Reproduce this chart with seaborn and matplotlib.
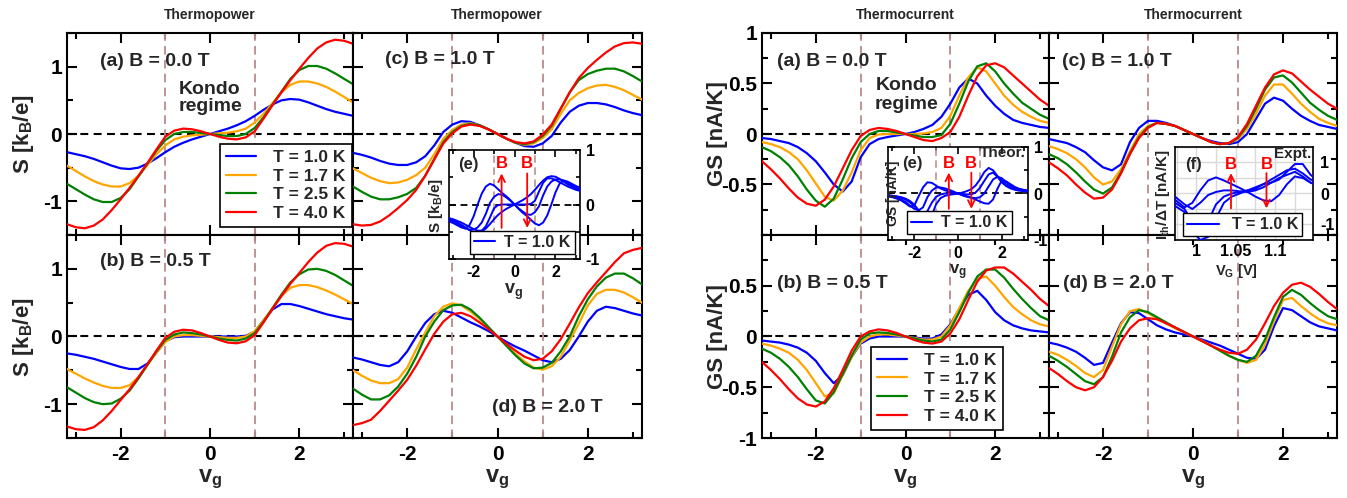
import numpy as np
import pandas as pd
import matplotlib
matplotlib.use("Agg")
import matplotlib.pyplot as plt
import seaborn as sns
from matplotlib.lines import Line2D
from matplotlib.ticker import MultipleLocator, FixedLocator

# ---------------- data ----------------
VG = [-3.2, -3.0, -2.8, -2.6, -2.4, -2.2, -2.0, -1.8, -1.6, -1.4, -1.2, -1.0, -0.8, -0.6, -0.4, -0.2,
      0.0, 0.2, 0.4, 0.6, 0.8, 1.0, 1.2, 1.4, 1.6, 1.8, 2.0, 2.2, 2.4, 2.6, 2.8, 3.0, 3.2]
TEMPS = ["T = 1.0 K", "T = 1.7 K", "T = 2.5 K", "T = 4.0 K"]
COLORS = ["#0000ff", "#ffa500", "#008000", "#ff0000"]
B_LABELS = ["B = 0.0 T", "B = 0.5 T", "B = 1.0 T", "B = 2.0 T"]

# Thermopower S [kB/e]
TP_A_T10 = [-0.27,-0.30,-0.33,-0.37,-0.42,-0.47,-0.51,-0.52,-0.50,-0.44,-0.36,-0.27,-0.19,-0.13,-0.08,-0.04,0.0,0.04,0.08,0.13,0.19,0.27,0.36,0.44,0.50,0.52,0.51,0.47,0.42,0.37,0.33,0.30,0.27]
TP_A_T17 = [-0.47,-0.55,-0.63,-0.70,-0.75,-0.78,-0.78,-0.73,-0.62,-0.46,-0.30,-0.17,-0.08,-0.04,-0.02,-0.01,0.0,0.01,0.02,0.04,0.08,0.17,0.30,0.46,0.62,0.73,0.78,0.78,0.75,0.70,0.63,0.55,0.47]
TP_A_T25 = [-0.74,-0.82,-0.90,-0.97,-1.01,-1.01,-0.95,-0.82,-0.63,-0.44,-0.25,-0.09,0.0,0.03,0.03,0.015,0.0,-0.015,-0.03,-0.03,0.0,0.09,0.25,0.44,0.63,0.82,0.95,1.01,1.01,0.97,0.90,0.82,0.74]
TP_A_T40 = [-1.34,-1.385,-1.40,-1.36,-1.27,-1.13,-0.97,-0.80,-0.62,-0.43,-0.23,-0.04,0.05,0.08,0.07,0.04,0.0,-0.04,-0.07,-0.08,-0.05,0.04,0.23,0.43,0.62,0.80,0.97,1.13,1.27,1.36,1.40,1.385,1.34]

TP_B_T10 = [-0.25,-0.27,-0.30,-0.33,-0.37,-0.41,-0.45,-0.48,-0.48,-0.40,-0.24,-0.07,-0.01,0.0,0.0,0.0,0.0,0.0,0.0,0.0,0.01,0.07,0.24,0.40,0.48,0.48,0.45,0.41,0.37,0.33,0.30,0.27,0.25]
TP_B_T17 = [-0.48,-0.55,-0.62,-0.68,-0.73,-0.76,-0.76,-0.72,-0.60,-0.42,-0.24,-0.08,0.0,0.02,0.02,0.01,0.0,-0.01,-0.02,-0.02,0.0,0.08,0.24,0.42,0.60,0.72,0.76,0.76,0.73,0.68,0.62,0.55,0.48]
TP_B_T25 = [-0.75,-0.83,-0.91,-0.97,-1.0,-0.99,-0.92,-0.80,-0.62,-0.42,-0.22,-0.05,0.03,0.06,0.05,0.03,0.0,-0.03,-0.05,-0.06,-0.03,0.05,0.22,0.42,0.62,0.80,0.92,0.99,1.0,0.97,0.91,0.83,0.75]
TP_B_T40 = [-1.33,-1.37,-1.38,-1.34,-1.24,-1.10,-0.94,-0.78,-0.60,-0.41,-0.21,-0.02,0.07,0.10,0.09,0.05,0.0,-0.05,-0.09,-0.10,-0.07,0.02,0.21,0.41,0.60,0.78,0.94,1.10,1.24,1.34,1.38,1.37,1.33]

TP_C_T10 = [-0.28,-0.31,-0.35,-0.40,-0.44,-0.46,-0.46,-0.42,-0.33,-0.17,0.03,0.14,0.19,0.18,0.13,0.07,0.0,-0.07,-0.13,-0.18,-0.19,-0.14,-0.03,0.17,0.33,0.42,0.46,0.46,0.44,0.40,0.35,0.31,0.28]
TP_C_T17 = [-0.51,-0.58,-0.65,-0.70,-0.73,-0.72,-0.68,-0.61,-0.50,-0.30,-0.07,0.06,0.14,0.16,0.13,0.07,0.0,-0.07,-0.13,-0.16,-0.14,-0.06,0.07,0.30,0.50,0.61,0.68,0.72,0.73,0.70,0.65,0.58,0.51]
TP_C_T25 = [-0.78,-0.86,-0.93,-0.97,-0.97,-0.94,-0.89,-0.80,-0.62,-0.37,-0.12,0.03,0.12,0.15,0.13,0.07,0.0,-0.07,-0.13,-0.15,-0.12,-0.03,0.12,0.37,0.62,0.80,0.89,0.94,0.97,0.97,0.93,0.86,0.78]
TP_C_T40 = [-1.34,-1.36,-1.35,-1.30,-1.21,-1.10,-0.98,-0.83,-0.62,-0.38,-0.14,0.01,0.11,0.14,0.12,0.07,0.0,-0.07,-0.12,-0.14,-0.11,-0.01,0.14,0.38,0.62,0.83,0.98,1.10,1.21,1.30,1.35,1.36,1.34]

TP_D_T10 = [-0.31,-0.34,-0.38,-0.42,-0.44,-0.38,-0.22,0.0,0.20,0.33,0.38,0.35,0.28,0.21,0.15,0.08,0.0,-0.08,-0.15,-0.21,-0.28,-0.35,-0.38,-0.33,-0.20,0.0,0.22,0.38,0.44,0.42,0.38,0.34,0.31]
TP_D_T17 = [-0.50,-0.58,-0.65,-0.69,-0.69,-0.63,-0.46,-0.19,0.06,0.30,0.44,0.49,0.46,0.37,0.26,0.13,0.0,-0.13,-0.26,-0.37,-0.46,-0.49,-0.44,-0.30,-0.06,0.19,0.46,0.63,0.69,0.69,0.65,0.58,0.50]
TP_D_T25 = [-0.77,-0.86,-0.93,-0.93,-0.87,-0.74,-0.55,-0.30,0.0,0.22,0.39,0.46,0.47,0.40,0.28,0.14,0.0,-0.14,-0.28,-0.40,-0.47,-0.46,-0.39,-0.22,0.0,0.30,0.55,0.74,0.87,0.93,0.93,0.86,0.77]
TP_D_T40 = [-1.31,-1.28,-1.23,-1.10,-0.95,-0.80,-0.64,-0.43,-0.19,0.04,0.22,0.33,0.35,0.30,0.21,0.11,0.0,-0.11,-0.21,-0.30,-0.35,-0.33,-0.22,-0.04,0.19,0.43,0.64,0.80,0.95,1.10,1.23,1.28,1.31]

# Thermocurrent GS [nA/K]
GS_A_T10 = [-0.04,-0.05,-0.07,-0.09,-0.13,-0.19,-0.27,-0.38,-0.50,-0.57,-0.47,-0.23,-0.10,-0.05,-0.03,-0.015,0.0,0.02,0.05,0.09,0.17,0.30,0.46,0.55,0.50,0.38,0.28,0.20,0.14,0.11,0.09,0.07,0.06]
GS_A_T17 = [-0.08,-0.10,-0.13,-0.18,-0.25,-0.36,-0.49,-0.62,-0.66,-0.56,-0.38,-0.16,-0.04,-0.005,0.0,0.0,0.0,0.0,0.005,0.02,0.06,0.18,0.38,0.56,0.66,0.62,0.50,0.38,0.29,0.22,0.17,0.13,0.11]
GS_A_T25 = [-0.13,-0.17,-0.23,-0.31,-0.42,-0.55,-0.66,-0.72,-0.64,-0.45,-0.24,-0.08,0.0,0.03,0.03,0.015,0.0,-0.015,-0.03,-0.03,-0.01,0.10,0.30,0.52,0.67,0.70,0.62,0.50,0.40,0.31,0.25,0.19,0.15]
GS_A_T40 = [-0.27,-0.35,-0.44,-0.54,-0.63,-0.69,-0.71,-0.65,-0.52,-0.34,-0.16,-0.02,0.04,0.06,0.05,0.03,0.0,-0.03,-0.06,-0.07,-0.04,0.02,0.17,0.38,0.57,0.68,0.70,0.66,0.58,0.50,0.42,0.34,0.28]

GS_B_T10 = [-0.04,-0.05,-0.06,-0.08,-0.11,-0.16,-0.24,-0.36,-0.46,-0.38,-0.20,-0.07,-0.02,0.0,0.0,0.0,0.0,-0.01,-0.02,-0.02,0.02,0.12,0.27,0.41,0.45,0.36,0.24,0.16,0.11,0.08,0.06,0.05,0.04]
GS_B_T17 = [-0.07,-0.09,-0.12,-0.16,-0.23,-0.33,-0.46,-0.59,-0.56,-0.38,-0.20,-0.06,0.0,0.02,0.02,0.01,0.0,-0.015,-0.03,-0.03,0.0,0.11,0.28,0.45,0.57,0.59,0.50,0.39,0.29,0.22,0.16,0.12,0.10]
GS_B_T25 = [-0.12,-0.16,-0.22,-0.30,-0.40,-0.52,-0.63,-0.66,-0.55,-0.37,-0.19,-0.03,0.03,0.04,0.035,0.02,0.0,-0.02,-0.04,-0.05,-0.03,0.07,0.24,0.43,0.59,0.66,0.66,0.58,0.47,0.37,0.28,0.20,0.16]
GS_B_T40 = [-0.25,-0.33,-0.42,-0.52,-0.61,-0.67,-0.69,-0.64,-0.51,-0.33,-0.14,0.0,0.05,0.07,0.06,0.035,0.0,-0.035,-0.06,-0.07,-0.05,0.03,0.17,0.36,0.54,0.65,0.68,0.68,0.62,0.54,0.46,0.37,0.30]

GS_C_T10 = [-0.05,-0.07,-0.09,-0.13,-0.18,-0.26,-0.33,-0.36,-0.30,-0.08,0.06,0.13,0.13,0.11,0.08,0.04,0.0,-0.04,-0.07,-0.09,-0.10,-0.08,0.0,0.15,0.30,0.36,0.33,0.25,0.18,0.13,0.09,0.07,0.05]
GS_C_T17 = [-0.12,-0.15,-0.19,-0.25,-0.33,-0.43,-0.50,-0.47,-0.35,-0.17,0.0,0.08,0.11,0.10,0.08,0.04,0.0,-0.04,-0.08,-0.10,-0.09,-0.05,0.05,0.20,0.38,0.49,0.49,0.40,0.30,0.22,0.15,0.11,0.08]
GS_C_T25 = [-0.20,-0.24,-0.30,-0.38,-0.47,-0.55,-0.59,-0.53,-0.38,-0.19,-0.03,0.07,0.11,0.10,0.08,0.04,0.0,-0.04,-0.08,-0.10,-0.09,-0.04,0.08,0.25,0.44,0.56,0.58,0.51,0.41,0.31,0.24,0.18,0.14]
GS_C_T40 = [-0.28,-0.34,-0.41,-0.50,-0.58,-0.64,-0.63,-0.55,-0.39,-0.20,-0.04,0.06,0.11,0.10,0.08,0.04,0.0,-0.04,-0.08,-0.10,-0.09,-0.03,0.10,0.28,0.46,0.59,0.63,0.60,0.52,0.44,0.37,0.30,0.25]

GS_D_T10 = [-0.06,-0.08,-0.11,-0.15,-0.21,-0.28,-0.26,-0.06,0.13,0.24,0.23,0.17,0.11,0.07,0.04,0.02,0.0,-0.03,-0.06,-0.09,-0.13,-0.17,-0.21,-0.22,-0.13,0.10,0.28,0.26,0.20,0.14,0.10,0.08,0.06]
GS_D_T17 = [-0.15,-0.18,-0.23,-0.29,-0.36,-0.40,-0.33,-0.10,0.12,0.25,0.27,0.23,0.18,0.13,0.08,0.04,0.0,-0.04,-0.09,-0.14,-0.19,-0.23,-0.26,-0.23,-0.08,0.15,0.36,0.38,0.30,0.23,0.17,0.13,0.11]
GS_D_T25 = [-0.19,-0.24,-0.30,-0.37,-0.44,-0.47,-0.40,-0.20,0.04,0.19,0.26,0.24,0.19,0.14,0.09,0.045,0.0,-0.045,-0.09,-0.14,-0.19,-0.23,-0.25,-0.19,-0.03,0.19,0.39,0.46,0.41,0.33,0.26,0.20,0.17]
GS_D_T40 = [-0.31,-0.37,-0.44,-0.50,-0.53,-0.50,-0.40,-0.24,-0.05,0.08,0.16,0.18,0.17,0.13,0.09,0.045,0.0,-0.045,-0.09,-0.13,-0.16,-0.17,-0.13,-0.03,0.13,0.30,0.43,0.51,0.53,0.49,0.42,0.34,0.27]

# Experimental inset (f): I_th/dT [nA/K] vs V_G [V]
VG_EXP = [0.973, 0.985, 0.995, 1.005, 1.015, 1.025, 1.035, 1.045, 1.055, 1.065, 1.075,
          1.085, 1.095, 1.105, 1.115, 1.125, 1.135, 1.145, 1.150]
EXP_1 = [-0.2, -0.45, -0.3, 0.1, 0.42, 0.52, 0.42, 0.3, 0.18, 0.05, -0.1, -0.22, -0.25, -0.05, 0.3, 0.55, 0.5, 0.35, 0.3]
EXP_2 = [-0.1, -0.35, -0.5, -0.3, -0.05, 0.05, 0.1, 0.1, 0.07, 0.05, 0.1, 0.2, 0.35, 0.5, 0.6, 0.7, 0.55, 0.35, 0.3]
EXP_3 = [-0.3, -0.5, -0.9, -1.3, -0.9, -0.35, -0.1, 0.0, 0.05, 0.1, 0.15, 0.3, 0.45, 0.6, 0.75, 0.8, 0.65, 0.45, 0.4]
EXP_4 = [-0.4, -0.6, -1.2, -1.5, -1.4, -0.8, -0.3, -0.1, 0.0, 0.1, 0.2, 0.3, 0.35, 0.45, 0.7, 0.95, 0.95, 0.6, 0.5]

# ---------------- style ----------------
sns.set_theme(style="ticks")
plt.rcParams.update({
    "font.weight": "bold",
    "axes.labelweight": "bold",
    "mathtext.fontset": "custom",
    "mathtext.rm": "Liberation Sans:bold",
    "mathtext.it": "Liberation Sans:bold",
    "mathtext.bf": "Liberation Sans:bold",
    "mathtext.default": "bf",
    "axes.edgecolor": "black",
    "xtick.color": "black",
    "ytick.color": "black",
})
plt.rcParams["font.family"] = ["Liberation Sans", "DejaVu Sans"]

W, H = 1347, 498
fig = plt.figure(figsize=(W / 100, H / 100), dpi=100)
fig.patch.set_facecolor("white")


def add_ax(x0, y0, x1, y1):
    return fig.add_axes([x0 / W, 1 - y1 / H, (x1 - x0) / W, (y1 - y0) / H])


def ftext(x, y, s, **kw):
    kw.setdefault("fontweight", "bold")
    return fig.text(x / W, 1 - y / H, s, **kw)


def guides(ax, lw=1.5):
    ax.axhline(0, color="black", lw=lw, ls=(0, (3.8, 2.6)), zorder=1)
    for v in (-1, 1):
        ax.axvline(v, color="#bc8f8f", lw=lw * 0.9, ls=(0, (4.6, 2.8)), zorder=1)


def style_axes(ax, lw, size, major_len, minor_len):
    for sp in ax.spines.values():
        sp.set_visible(True)
        sp.set_linewidth(lw)
        sp.set_color("black")
    ax.tick_params(which="both", direction="in", top=True, right=True,
                   width=lw, labelsize=size, colors="black")
    ax.tick_params(which="major", length=major_len)
    ax.tick_params(which="minor", length=minor_len)
    ax.set_xlabel("")
    ax.set_ylabel("")


def main_panel(box, series, ylim, yticks, yminor, xlabels, ylabels):
    ax = add_ax(*box)
    guides(ax)
    df = pd.DataFrame({
        "vg": VG * len(series),
        "val": sum(series, []),
        "T": [t for t in TEMPS for _ in VG],
    })
    sns.lineplot(data=df, x="vg", y="val", hue="T", hue_order=TEMPS,
                 palette=COLORS, ax=ax, legend=False, linewidth=1.6,
                 sort=False, zorder=3)
    ax.set_xlim(-3.2, 3.2)
    ax.set_ylim(*ylim)
    ax.xaxis.set_major_locator(FixedLocator([-2, 0, 2]))
    ax.xaxis.set_minor_locator(MultipleLocator(1))
    ax.yaxis.set_major_locator(FixedLocator(yticks))
    ax.yaxis.set_minor_locator(MultipleLocator(yminor))
    style_axes(ax, 1.5, 15, 7, 4)
    ax.set_yticklabels([("%g" % t) for t in yticks] if ylabels else [])
    ax.set_xticklabels(["-2", "0", "2"] if xlabels else [])
    ax.tick_params(axis="x", pad=5)
    return ax


def temp_legend(ax, anchor):
    handles = [Line2D([], [], color=c, lw=1.6) for c in COLORS]
    leg = ax.legend(handles, TEMPS, loc="lower right", bbox_to_anchor=anchor,
                    prop={"weight": "bold", "size": 12.5}, frameon=True,
                    fancybox=False, framealpha=1, edgecolor="black",
                    handlelength=1.7, handletextpad=1.0, labelspacing=0.2,
                    borderpad=0.35, borderaxespad=0)
    leg.get_frame().set_linewidth(1.2)
    leg.set_zorder(10)
    return leg


TP_lim = (-1.5, 1.5)
GS_lim = (-1.0, 1.0)

tpa = main_panel((67, 33, 353, 235), [TP_A_T10, TP_A_T17, TP_A_T25, TP_A_T40], TP_lim, [-1, 0, 1], 0.5, False, True)
tpb = main_panel((67, 235, 353, 438), [TP_B_T10, TP_B_T17, TP_B_T25, TP_B_T40], TP_lim, [-1, 0, 1], 0.5, True, True)
tpc = main_panel((353, 33, 642, 235), [TP_C_T10, TP_C_T17, TP_C_T25, TP_C_T40], TP_lim, [-1, 0, 1], 0.5, False, False)
tpd = main_panel((353, 235, 642, 438), [TP_D_T10, TP_D_T17, TP_D_T25, TP_D_T40], TP_lim, [-1, 0, 1], 0.5, True, False)

gsa = main_panel((762, 33, 1049, 235), [GS_A_T10, GS_A_T17, GS_A_T25, GS_A_T40], GS_lim, [-0.5, 0, 0.5, 1], 0.25, False, True)
gsb = main_panel((762, 235, 1049, 438), [GS_B_T10, GS_B_T17, GS_B_T25, GS_B_T40], GS_lim, [-1, -0.5, 0, 0.5], 0.25, True, True)
gsc = main_panel((1049, 33, 1337, 235), [GS_C_T10, GS_C_T17, GS_C_T25, GS_C_T40], GS_lim, [-0.5, 0, 0.5, 1], 0.25, False, False)
gsd = main_panel((1049, 235, 1337, 438), [GS_D_T10, GS_D_T17, GS_D_T25, GS_D_T40], GS_lim, [-1, -0.5, 0, 0.5], 0.25, True, False)

temp_legend(tpa, (0.995, 0.04))
temp_legend(gsb, (0.838, 0.04))


# ---------------- insets ----------------
def inset_theory(box, series, anchor):
    ax = add_ax(*box)
    ax.set_facecolor("white")
    ax.set_zorder(5)
    guides(ax, lw=1.3)
    df = pd.DataFrame({
        "vg": VG * len(series),
        "val": sum(series, []),
        "B": [b for b in B_LABELS for _ in VG],
    })
    sns.lineplot(data=df, x="vg", y="val", hue="B", hue_order=B_LABELS,
                 palette=["#0000ff"] * 4, ax=ax, legend=False, linewidth=1.4,
                 sort=False, zorder=3)
    ax.set_xlim(-3.2, 3.2)
    ax.set_ylim(-1, 1)
    ax.xaxis.set_major_locator(FixedLocator([-2, 0, 2]))
    ax.xaxis.set_minor_locator(MultipleLocator(1))
    ax.yaxis.set_major_locator(FixedLocator([-1, 0, 1]))
    ax.yaxis.set_minor_locator(MultipleLocator(0.5))
    style_axes(ax, 1.2, 11.5, 5, 3)
    ax.tick_params(labelleft=False, labelright=True, pad=4)
    ax.set_xticklabels(["-2", "0", "2"])
    ax.set_yticklabels(["-1", "0", "1"])
    leg = ax.legend([Line2D([], [], color="#0000ff", lw=1.5)], ["T = 1.0 K"],
                    loc="lower center", bbox_to_anchor=anchor,
                    prop={"weight": "bold", "size": 11.5}, frameon=True,
                    fancybox=False, framealpha=1, edgecolor="black",
                    handlelength=1.3, handletextpad=0.6, borderpad=0.25,
                    borderaxespad=0)
    leg.get_frame().set_linewidth(1.0)
    return ax


def b_arrows(ax, xs, y_low, y_high, y_text):
    up_x, down_x = xs
    ax.annotate("", xy=(up_x, y_high), xytext=(up_x, y_low),
                arrowprops=dict(arrowstyle="->", color="red", lw=1.3,
                                shrinkA=0, shrinkB=0), zorder=6)
    ax.annotate("", xy=(down_x, y_low), xytext=(down_x, y_high),
                arrowprops=dict(arrowstyle="->", color="red", lw=1.3,
                                shrinkA=0, shrinkB=0), zorder=6)
    for xx in xs:
        ax.text(xx, y_text, "B", color="red", fontsize=12, fontweight="bold",
                ha="center", va="center", zorder=6)


tpe = inset_theory((449, 150, 580, 259), [TP_A_T10, TP_B_T10, TP_C_T10, TP_D_T10],
                   (0.56, 0.05))
b_arrows(tpe, (-0.63, 0.62), -0.43, 0.57, 0.76)

gse = inset_theory((888, 147, 1028, 240), [GS_A_T10, GS_B_T10, GS_C_T10, GS_D_T10],
                   (0.51, 0.06))
b_arrows(gse, (-0.42, 0.61), -0.33, 0.45, 0.64)

# experimental inset (f)
gsf = add_ax(1175, 147, 1313, 240)
gsf.set_facecolor("white")
gsf.set_zorder(5)
df_exp = pd.DataFrame({
    "V": VG_EXP * 4,
    "I": EXP_1 + EXP_2 + EXP_3 + EXP_4,
    "run": [r for r in ["1", "2", "3", "4"] for _ in VG_EXP],
})
sns.lineplot(data=df_exp, x="V", y="I", hue="run", palette=["#0000ff"] * 4,
             ax=gsf, legend=False, linewidth=1.4, sort=False, zorder=3)
gsf.set_xlim(0.973, 1.148)
gsf.set_ylim(-1.5, 1.5)
gsf.xaxis.set_major_locator(FixedLocator([1.0, 1.05, 1.1]))
gsf.xaxis.set_minor_locator(MultipleLocator(0.025))
gsf.yaxis.set_major_locator(FixedLocator([-1, 0, 1]))
gsf.yaxis.set_minor_locator(MultipleLocator(0.5))
gsf.grid(which="both", color="#d9d9d9", lw=1.0, zorder=0)
gsf.set_axisbelow(True)
style_axes(gsf, 1.2, 11.5, 0, 0)
gsf.tick_params(labelleft=False, labelright=True, pad=5)
gsf.tick_params(axis="x", pad=3)
gsf.set_xticklabels(["1", "1.05", "1.1"])
gsf.set_yticklabels(["-1", "0", "1"])
legf = gsf.legend([Line2D([], [], color="#0000ff", lw=1.5)], ["T = 1.0 K"],
                  loc="lower center", bbox_to_anchor=(0.49, 0.04),
                  prop={"weight": "bold", "size": 11.5}, frameon=True,
                  fancybox=False, framealpha=1, edgecolor="black",
                  handlelength=2.0, handletextpad=0.8, borderpad=0.25,
                  borderaxespad=0)
legf.get_frame().set_linewidth(1.0)
b_arrows(gsf, (1.044, 1.089), -0.48, 0.66, 0.92)

# ---------------- texts ----------------
for x, s in [(210, "Thermopower"), (497, "Thermopower"),
             (905, "Thermocurrent"), (1193, "Thermocurrent")]:
    ftext(x, 15, s, fontsize=10, ha="center", va="center")

for x, y, s in [(100, 62, "(a) B = 0.0 T"), (100, 262, "(b) B = 0.5 T"),
                (385, 60, "(c) B = 1.0 T"), (492, 407, "(d) B = 2.0 T"),
                (777, 62, "(a) B = 0.0 T"), (777, 283, "(b) B = 0.5 T"),
                (1062, 62, "(c) B = 1.0 T"), (1063, 283, "(d) B = 2.0 T")]:
    ftext(x, y, s, fontsize=14, ha="left", va="center", zorder=12)

ftext(210, 98, "Kondo\nregime", fontsize=14, ha="center", va="center",
      linespacing=1.05)
ftext(907, 95, "Kondo\nregime", fontsize=14, ha="center", va="center",
      linespacing=1.1)

for y in (134, 337):
    ftext(23, y, "S [k$_B$/e]", fontsize=16, rotation=90, ha="center", va="center")
    ftext(717, y, "GS [nA/K]", fontsize=16, rotation=90, ha="center", va="center")
for x in (210, 497, 905, 1193):
    ftext(x, 479, "v$_g$", fontsize=17, ha="center", va="center")

# inset texts
ftext(458, 164, "(e)", fontsize=12, ha="left", va="center", zorder=12)
ftext(902, 163, "(e)", fontsize=12, ha="left", va="center", zorder=12)
ftext(1185, 164, "(f)", fontsize=12, ha="left", va="center", zorder=12)
ftext(1026, 153, "Theor.", fontsize=11, ha="right", va="center", zorder=12)
ftext(1311, 154, "Expt.", fontsize=11, ha="right", va="center", zorder=12)
ftext(436, 205, "S [k$_B$/e]", fontsize=11, rotation=90, ha="center", va="center", zorder=12)
ftext(514, 292, "v$_g$", fontsize=13, ha="center", va="center", zorder=12)
ftext(893, 193, "GS [nA/K]", fontsize=10, rotation=90, ha="center", va="center", zorder=12)
ftext(958, 272, "v$_g$", fontsize=12, ha="center", va="center", zorder=12)
ftext(1163, 195, "I$_{th}$/\u0394T [nA/K]", fontsize=11, rotation=90, ha="center", va="center", zorder=12)
ftext(1236, 271, "V$_G$ [V]", fontsize=10.5, ha="center", va="center", zorder=12)

fig.savefig("out.png", dpi=100, facecolor="white")
